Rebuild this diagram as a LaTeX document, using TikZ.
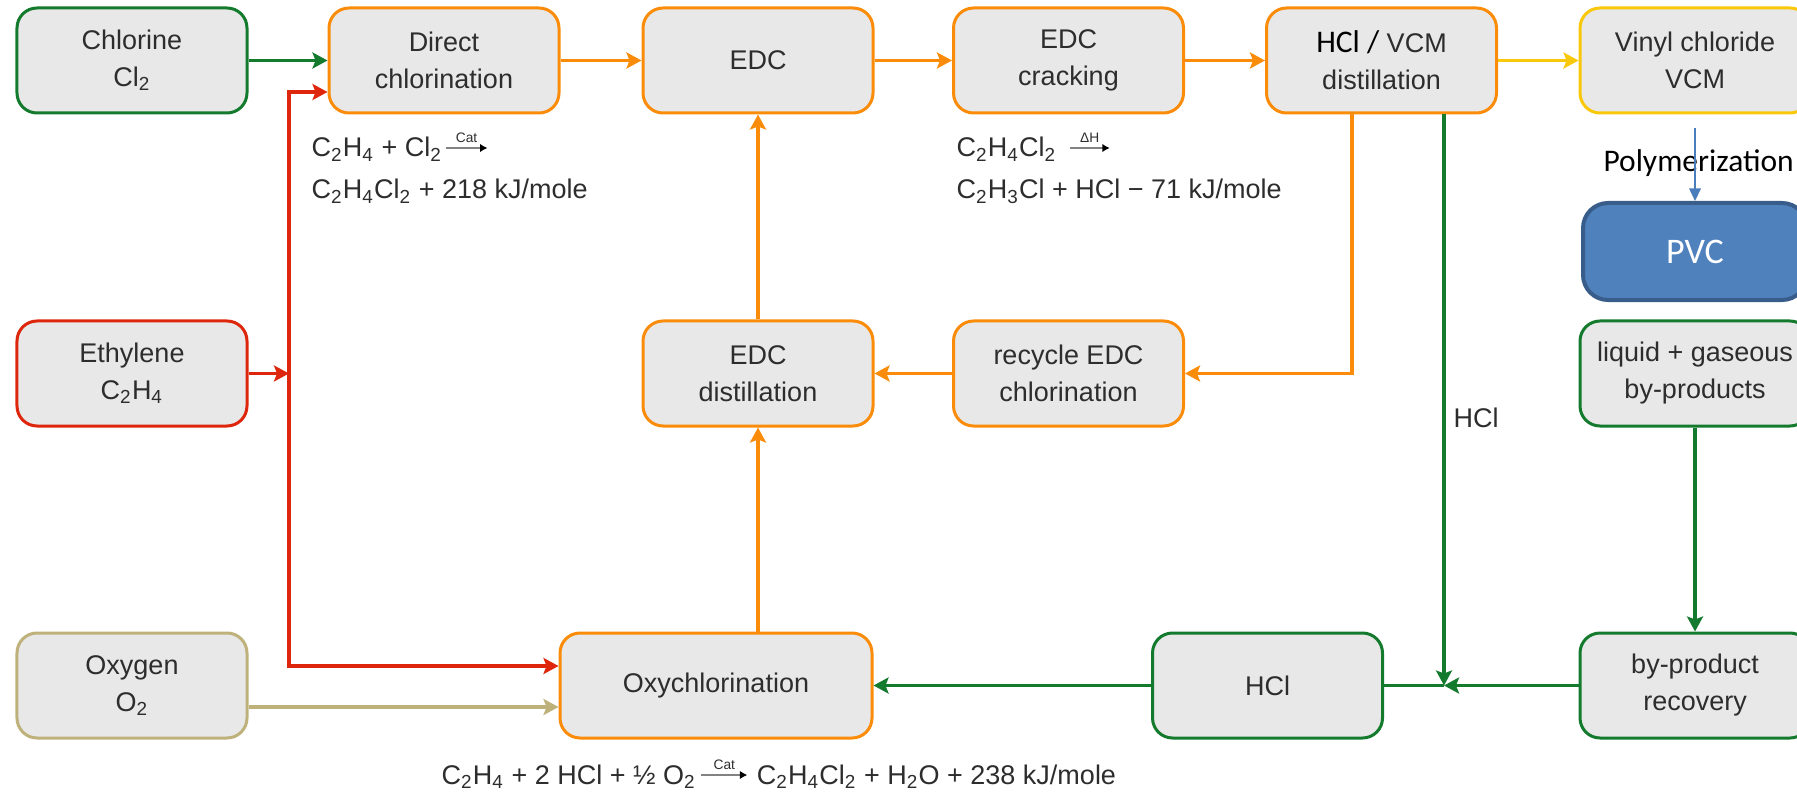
\documentclass[tikz,border=0pt]{standalone}
\usepackage{fontspec}
\setmainfont{Liberation Sans}
\newfontfamily\calib{Carlito}
\usetikzlibrary{arrows.meta,calc}
\definecolor{cgreen}{RGB}{20,122,45}
\definecolor{corange}{RGB}{250,140,10}
\definecolor{cred}{RGB}{222,38,12}
\definecolor{ckhaki}{RGB}{190,178,122}
\definecolor{cyellow}{RGB}{250,200,10}
\definecolor{boxgray}{RGB}{232,232,232}
\definecolor{txt}{RGB}{45,45,45}
\definecolor{pvcfill}{RGB}{79,129,189}
\definecolor{pvcdraw}{RGB}{56,93,138}
\definecolor{cblue}{RGB}{74,126,187}
\definecolor{eqgray}{RGB}{130,130,130}
\begin{document}
\begin{tikzpicture}[x=0.4pt,y=-0.4pt,
  >={Stealth[length=6pt,width=6.4pt,inset=1.2pt]},
  box/.style={draw, rounded corners=8pt, fill=boxgray, line width=1.2pt,
    minimum width=92pt, minimum height=42pt, align=center, inner sep=0pt,
    text=txt, font=\fontsize{10.8}{14.8}\selectfont},
  gbox/.style={box, draw=cgreen},
  obox/.style={box, draw=corange},
  rbox/.style={box, draw=cred},
  kbox/.style={box, draw=ckhaki},
  ybox/.style={box, draw=cyellow},
  pvcbox/.style={draw=pvcdraw, fill=pvcfill, rounded corners=10pt, line width=1.6pt,
    minimum width=89.6pt, minimum height=38.8pt, inner sep=0pt, text=white,
    font=\calib\fontsize{14.4}{16}\selectfont},
  conn/.style={line width=1.4pt},
  garr/.style={conn, draw=cgreen, ->},
  gline/.style={conn, draw=cgreen},
  oarr/.style={conn, draw=corange, ->},
  rarr/.style={conn, draw=cred, ->},
  karr/.style={conn, draw=ckhaki, ->},
  yarr/.style={conn, draw=cyellow, ->},
  barr/.style={line width=0.7pt, draw=cblue, -{Triangle[length=5pt,width=4.6pt]}},
  eq/.style={inner sep=0pt, text=txt, font=\fontsize{10.8}{14}\selectfont},
  eqarr/.style={line width=1.1pt, draw=eqgray, -{Latex[length=3pt,width=3.4pt,color=black]}},
  cat/.style={inner sep=0pt, text=txt, font=\fontsize{5.5}{6}\selectfont},
  lab/.style={inner sep=0pt, text=txt, font=\fontsize{10.8}{14.8}\selectfont}]
\useasboundingbox (0,0) rectangle (1797,792);
\clip (0,0) rectangle (1797,792);

% nodes
\node[gbox] (chlorine) at (132,60.5) {Chlorine\\Cl\textsubscript{2}};
\node[obox] (direct) at (444,60.5) {Direct\\chlorination};
\node[obox] (edc) at (758,60.5) {EDC};
\node[obox] (crack) at (1068.5,60.5) {EDC\\cracking};
\node[obox] (hclvcm) at (1381.5,60.5) {{\calib\color{black}\fontsize{12.6}{14.8}\selectfont HCl /} VCM\\distillation};
\node[ybox] (vinyl) at (1695,60.5) {Vinyl chloride\\VCM};
\node[pvcbox] (pvc) at (1695,251.5) {PVC};
\node[rbox] (ethylene) at (132,373.5) {Ethylene\\C\textsubscript{2}H\textsubscript{4}};
\node[obox] (edcdist) at (758,373.5) {EDC\\distillation};
\node[obox] (recycle) at (1068.5,373.5) {recycle EDC\\chlorination};
\node[gbox] (liquid) at (1695,373.5) {liquid + gaseous\\by-products};
\node[kbox] (oxygen) at (132,685.5) {Oxygen\\O\textsubscript{2}};
\node[obox, minimum width=124.8pt] (oxy) at (716,685.5) {Oxychlorination};
\node[gbox] (hcl) at (1267.5,685.5) {HCl};
\node[gbox] (byprod) at (1695,685.5) {by-product\\recovery};

% labels
\node[lab, anchor=west, font=\calib\fontsize{12.6}{14}\selectfont, text=black] (polylab) at (1603,163) {Polymerization};
\node[lab, anchor=west] (hcllab) at (1453,418) {HCl};

% equation: direct chlorination
\node[eq, anchor=base west] (eqd1) at (311,157) {C\textsubscript{2}H\textsubscript{4} + Cl\textsubscript{2}};
\coordinate (eqdA) at ($(eqd1.base east)+(3,-9)$);
\coordinate (eqdB) at ($(eqdA)+(42,0)$);
\draw[eqarr] (eqdA) -- (eqdB);
\node[cat, anchor=south] (catd) at ($(eqdA)!0.5!(eqdB)+(0,-5)$) {Cat};
\node[eq, anchor=base west] (eqd2) at (311,199) {C\textsubscript{2}H\textsubscript{4}Cl\textsubscript{2} + 218 kJ/mole};

% equation: cracking
\node[eq, anchor=base west] (eqc1) at (956,157) {C\textsubscript{2}H\textsubscript{4}Cl\textsubscript{2}};
\coordinate (eqcA) at ($(eqc1.base east)+(13,-9)$);
\coordinate (eqcB) at ($(eqcA)+(40,0)$);
\draw[eqarr] (eqcA) -- (eqcB);
\node[cat, anchor=south] (catc) at ($(eqcA)!0.5!(eqcB)+(0,-5)$) {ΔH};
\node[eq, anchor=base west] (eqc2) at (956,199) {C\textsubscript{2}H\textsubscript{3}Cl + HCl − 71 kJ/mole};

% equation: oxychlorination
\node[eq, anchor=base west] (eqo1) at (441,784) {C\textsubscript{2}H\textsubscript{4} + 2 HCl + ½ O\textsubscript{2}};
\coordinate (eqoA) at ($(eqo1.base east)+(5,-9)$);
\coordinate (eqoB) at ($(eqoA)+(46,0)$);
\draw[eqarr] (eqoA) -- (eqoB);
\node[cat, anchor=south] (cato) at ($(eqoA)!0.5!(eqoB)+(0,-5)$) {Cat};
\node[eq, anchor=base west] (eqo2) at ($(eqoB)+(9,9)$) {C\textsubscript{2}H\textsubscript{4}Cl\textsubscript{2} + H\textsubscript{2}O + 238 kJ/mole};

% coordinates
\coordinate (rtop) at (289,92);
\coordinate (rmid) at (289,373.5);
\coordinate (rbot) at (289,666);
\coordinate (gj) at (1444,685.5);

% connectors
\draw[garr] (chlorine.east) -- (direct.west);
\draw[conn, draw=cred, <->] (direct.west |- rtop) -- (rtop) -- (rbot) -- (oxy.west |- rbot);
\draw[rarr] (ethylene.east) -- (rmid);
\draw[karr] ($(oxygen.east)+(0,21.5)$) -- ($(oxy.west)+(0,21.5)$);
\draw[oarr] (direct.east) -- (edc.west);
\draw[oarr] (edc.east) -- (crack.west);
\draw[oarr] (crack.east) -- (hclvcm.west);
\draw[yarr] (hclvcm.east) -- (vinyl.west);
\draw[oarr] ($(hclvcm.south)+(-29.5,0)$) |- (recycle.east);
\draw[oarr] (recycle.west) -- (edcdist.east);
\draw[oarr] (edcdist.north) -- (edc.south);
\draw[oarr] (edcdist.south |- oxy.north) -- (edcdist.south);
\draw[garr] ($(hclvcm.south)+(62.5,0)$) -- (gj);
\draw[garr] (byprod.west) -- (gj);
\draw[gline] (gj) -- (hcl.east);
\draw[garr] (hcl.west) -- (oxy.east);
\draw[garr] (liquid.south) -- (byprod.north);
\draw[barr] ($(vinyl.south)+(0,14)$) -- (pvc.north);
\end{tikzpicture}
\end{document}
